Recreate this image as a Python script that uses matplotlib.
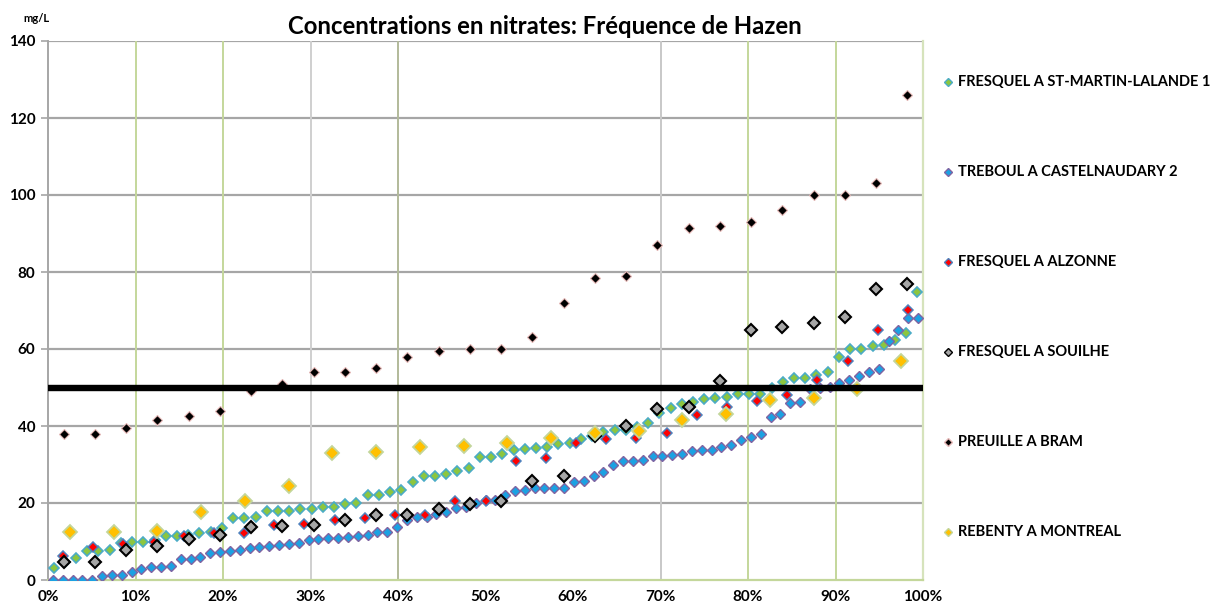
import matplotlib
matplotlib.use("Agg")
import matplotlib.pyplot as plt
import numpy as np
from matplotlib.lines import Line2D
from matplotlib.ticker import FuncFormatter

plt.rcParams['font.family'] = ['Lato', 'DejaVu Sans']
plt.rcParams['font.weight'] = 'bold'

# sorted concentrations (mg/L) per station
st_martin = [3.0, 4.8, 5.6, 7.6, 7.6, 7.8, 9.7, 9.8, 9.9, 10.4, 11.3, 11.4, 11.7, 12.3, 12.5, 13.6,
             16.0, 16.0, 16.3, 18.0, 18.0, 18.0, 18.4, 18.4, 18.9, 18.9, 19.7, 20.1, 22.1, 22.1, 22.9,
             23.5, 25.5, 27.0, 27.0, 27.5, 28.3, 29.0, 31.9, 32.0, 32.7, 33.8, 33.9, 34.2, 34.5, 35.3,
             35.5, 36.5, 37.5, 38.5, 39.0, 39.0, 39.8, 40.9, 43.5, 44.6, 45.7, 46.3, 47.0, 47.2, 47.6,
             48.2, 48.2, 48.3, 49.8, 51.5, 52.4, 52.4, 53.2, 54.1, 58.0, 59.9, 59.9, 60.8, 61.0, 62.3,
             64.1, 74.9]
treboul = [0, 0, 0, 0, 0, 1.0, 1.3, 1.3, 2.2, 2.8, 3.3, 3.5, 3.6, 5.4, 5.4, 6.1, 7.1, 7.3, 7.5, 7.8,
           8.2, 8.5, 8.8, 9.0, 9.4, 9.7, 10.3, 10.6, 10.8, 11.0, 11.2, 11.4, 11.7, 12.4, 12.4, 13.8,
           15.5, 16.4, 16.4, 17.1, 17.6, 18.6, 19.0, 19.9, 20.8, 20.8, 22.1, 23.2, 23.4, 24.0, 24.0,
           24.0, 24.0, 25.5, 25.7, 27.1, 28.1, 29.8, 30.9, 31.0, 31.2, 32.2, 32.2, 32.5, 32.7, 33.6,
           33.8, 33.8, 34.5, 35.1, 36.4, 37.2, 37.9, 42.4, 43.0, 45.9, 46.2, 49.5, 49.8, 50.1, 51.1,
           51.9, 53.0, 53.9, 54.7, 62.1, 64.9, 68.0, 68.0]
alzonne = [6.2, 8.7, 9.3, 9.9, 11.4, 12.3, 12.3, 14.2, 14.6, 15.7, 16.2, 16.8, 16.8, 20.5, 20.5,
           30.9, 31.6, 35.5, 36.6, 36.8, 38.1, 42.8, 45.0, 46.4, 48.0, 51.9, 56.8, 64.9, 70.1]
souilhe = [4.7, 4.8, 7.7, 8.8, 10.6, 11.7, 13.8, 13.9, 14.3, 15.5, 16.9, 17.0, 18.4, 19.7, 20.4,
           25.6, 27.0, 37.3, 40.0, 44.5, 45.0, 51.7, 64.9, 65.8, 66.8, 68.4, 75.7, 76.9]
bram = [38, 38, 39.5, 41.5, 42.5, 44, 49, 51, 54, 54, 55, 58, 59.5, 60, 60, 63, 72, 78.5, 79, 87,
        91.5, 92, 93, 96, 100, 100, 103, 126]
montreal = [12.5, 12.5, 12.8, 17.7, 20.4, 24.3, 33.1, 33.2, 34.5, 34.8, 35.6, 37.0, 38.3, 38.8,
            41.6, 43.2, 46.8, 47.2, 49.5, 56.9]

names = ["FRESQUEL A ST-MARTIN-LALANDE 1", "TREBOUL A CASTELNAUDARY 2", "FRESQUEL A ALZONNE",
         "FRESQUEL A SOUILHE", "PREUILLE A BRAM", "REBENTY A MONTREAL"]
seuil = 50

# (fill, edge, size, edge width)
styles = [("#8CC63F", "#4BACC6", 5.6, 1.2),
          ("#1BA1E2", "#8064A2", 5.4, 1.0),
          ("#FF0000", "#4F81BD", 4.8, 1.1),
          ("#A6A6A6", "#000000", 5.8, 1.5),
          ("#000000", "#E6B9B8", 5.0, 0.8),
          ("#FFC000", "#C3D69B", 7.0, 1.3)]


def hazen(values):
    """Hazen plotting position (i - 0.5) / n for sorted values"""
    n = len(values)
    return (np.arange(1, n + 1) - 0.5) / n


fig = plt.figure(figsize=(12.16, 6.08), dpi=100)
ax = fig.add_axes([48 / 1216, 28 / 608, 875 / 1216, 539 / 608])

# grid lines, drawn by hand to keep the odd colours of the original
for yv in range(20, 141, 20):
    ax.axhline(yv, color="#A6A6A6", lw=1.6, zorder=0)
vcols = {0.1: "#C4D79B", 0.2: "#C4D79B", 0.3: "#CFCFCF", 0.4: "#B2BA9A",
         0.7: "#C8C8C8", 0.8: "#C4D79B", 0.9: "#C4D79B"}
for xv, c in vcols.items():
    ax.axvline(xv, color=c, lw=1.4, zorder=0)

series = [st_martin, treboul, alzonne, souilhe, bram, montreal]
handles = []
for vals, (fc, ec, ms, mew), name in zip(series, styles, names):
    h, = ax.plot(hazen(vals), vals, linestyle="none", marker="D", markersize=ms,
                 markerfacecolor=fc, markeredgecolor=ec, markeredgewidth=mew, label=name, zorder=3)
    handles.append(h)

ax.axhline(seuil, color="black", lw=4.6, zorder=4)

ax.set_xlim(0, 1)
ax.set_ylim(0, 140)
ax.set_xticks(np.arange(0, 1.01, 0.1))
ax.xaxis.set_major_formatter(FuncFormatter(lambda v, p: f"{v * 100:.0f}%"))
ax.set_yticks(range(0, 141, 20))
ax.tick_params(axis="x", length=0, pad=7, labelsize=11)
ax.tick_params(axis="y", length=5, width=1.2, color="#A6A6A6", pad=4, labelsize=11)
for lab in ax.get_xticklabels() + ax.get_yticklabels():
    lab.set_fontweight("bold")

ax.spines["top"].set_visible(False)
ax.spines["left"].set_color("#A6A6A6")
ax.spines["left"].set_linewidth(1.4)
ax.spines["bottom"].set_color("#C4D79B")
ax.spines["bottom"].set_linewidth(1.6)
ax.spines["right"].set_color("#D6E3BC")
ax.spines["right"].set_linewidth(1.6)

fig.text(545 / 1216, 1 - 26 / 608, "Concentrations en nitrates: Fréquence de Hazen",
         ha="center", va="center", fontsize=17.2, fontweight="bold")
fig.text(36 / 1216, 1 - 19 / 608, "mg/L", ha="center", va="center", fontsize=8, fontweight="bold")

# legend on the right, one entry every 90 px
for i, (name, (fc, ec, ms, mew)) in enumerate(zip(names, styles)):
    yf = 1 - (82 + 90 * i) / 608
    fig.add_artist(Line2D([948 / 1216], [yf], transform=fig.transFigure, linestyle="none",
                          marker="D", markersize=4.2, markerfacecolor=fc, markeredgecolor=ec,
                          markeredgewidth=1.0))
    fig.text(958 / 1216, yf, name, ha="left", va="center", fontsize=10.5, fontweight="bold")

fig.savefig("out.png", dpi=100)
